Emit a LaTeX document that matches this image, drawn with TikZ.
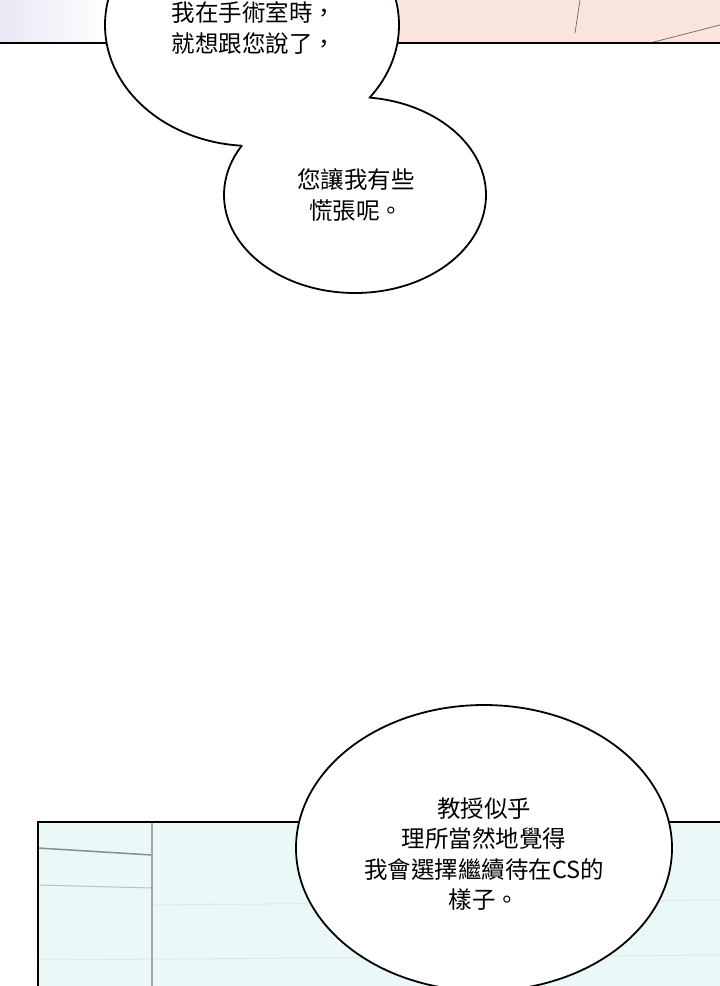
\documentclass[tikz,border=0pt]{standalone}
\usepackage{fontspec}
\newfontfamily\cjk{Noto Sans CJK TC}
\definecolor{skyl}{HTML}{EAF8F8}
\definecolor{pinkl}{HTML}{F9E4DE}
\definecolor{lav}{HTML}{E8E8F6}
\tikzset{bub/.style={draw=black,line width=1.8pt},
 txt/.style={font=\cjk\fontsize{23.5}{30.5}\selectfont,align=center,text=black}}
\begin{document}
\begin{tikzpicture}[x=1pt,y=-1pt]
\useasboundingbox (0,0) rectangle (720,986);
% top panel
\shade[left color=lav,right color=white] (0,0) rectangle (110,43);
\fill[pinkl] (390,0) rectangle (720,43);
\draw[line width=0.7pt,black!60] (580,0) -- (575,33);
\draw[line width=0.7pt,black!60] (650,43) -- (720,25);
\draw[line width=2pt] (0,43) -- (720,43);
% bubbles top
\fill[white] (252,25) ellipse [x radius=147,y radius=121];
\fill[white] (355,195) ellipse [x radius=131,y radius=98];
\begin{scope}[even odd rule]
\clip (355,195) ellipse [x radius=131,y radius=98] (-10,-10) rectangle (730,1000);
\draw[bub] (252,25) ellipse [x radius=147,y radius=121];
\end{scope}
\begin{scope}[even odd rule]
\clip (252,25) ellipse [x radius=147,y radius=121] (-10,-10) rectangle (730,1000);
\draw[bub] (355,195) ellipse [x radius=131,y radius=98];
\end{scope}
\node[txt] (t1) at (254,28) {我在手術室時，\\就想跟您說了，};
\node[txt] (t2) at (356,195) {您讓我有些\\慌張呢。};
% bottom panel
\fill[skyl] (38,822) rectangle (730,1000);
\draw[black!25,line width=1pt] (38,885) -- (152,888);
\draw[black!10,line width=1pt] (152,905) -- (720,900);
\draw[black!10,line width=1pt] (38,960) -- (720,955);
\draw[black!45,line width=1.5pt] (38,848) -- (152,855);
\draw[black!35,line width=1.5pt] (152,822) -- (152,990);
\draw[line width=2pt] (38,990) -- (38,822) -- (720,822);
\draw[bub,fill=white] (484,848) ellipse [x radius=188,y radius=143];
\node[txt] (t3) at (484,854) {教授似乎\\理所當然地覺得\\我會選擇繼續待在CS的\\樣子。};
\end{tikzpicture}
\end{document}
